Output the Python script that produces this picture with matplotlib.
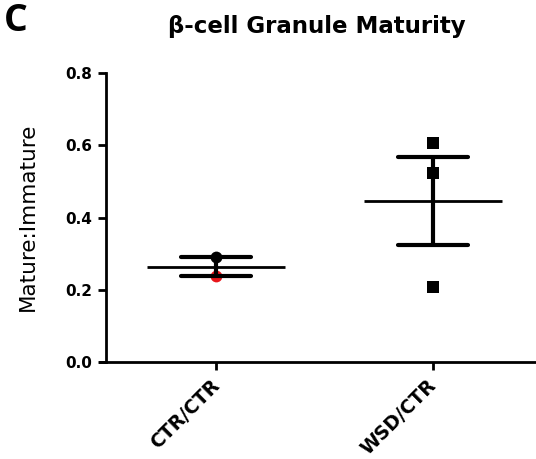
import numpy as np
import matplotlib
matplotlib.use("Agg")
import matplotlib.pyplot as plt
from matplotlib.transforms import ScaledTranslation

groups = ["CTR/CTR", "WSD/CTR"]
ctr_values = [0.290, 0.238]
ctr_colors = ["#000000", "#e8161b"]
wsd_values = [0.606, 0.523, 0.208]
yticks = [0.0, 0.2, 0.4, 0.6, 0.8]

plt.rcParams["font.family"] = ["DejaVu Sans"]

fig = plt.figure(figsize=(5.36, 4.59), dpi=100)
ax = fig.add_axes([100 / 536, 1 - 362 / 459, (545 - 100) / 536, (362 - 73) / 459])

positions = [1, 2]
series = [ctr_values, wsd_values]

for pos, vals in zip(positions, series):
    vals = np.asarray(vals)
    mean = vals.mean()
    sem = vals.std(ddof=1) / np.sqrt(len(vals))
    # mean line
    ax.plot([pos - 0.32, pos + 0.32], [mean, mean], color="black", lw=2.0,
            solid_capstyle="butt", zorder=3)
    # SEM bar with caps
    ax.plot([pos, pos], [mean - sem, mean + sem], color="black", lw=3.0,
            solid_capstyle="butt", zorder=3)
    for y in (mean - sem, mean + sem):
        ax.plot([pos - 0.16, pos + 0.16], [y, y], color="black", lw=3.0,
                solid_capstyle="round", zorder=3)

for v, c in zip(ctr_values, ctr_colors):
    ax.plot(positions[0], v, marker="o", ms=8.5, color=c, mec=c, mew=0, zorder=2)
for v in wsd_values:
    ax.plot(positions[1], v, marker="s", ms=9, color="black", mew=0, zorder=2)

x_left = 1 - (216 - 100) / 217
x_right = 1 + (545 - 216) / 217
ax.set_xlim(x_left, x_right)
ax.set_ylim(0, 0.8)

ax.spines["top"].set_visible(False)
ax.spines["right"].set_visible(False)
ax.spines["left"].set_position(("data", 1 - (216 - 106) / 217))
for s in ("left", "bottom"):
    ax.spines[s].set_linewidth(2.0)

ax.set_yticks(yticks)
ax.set_yticklabels([f"{t:.1f}" for t in yticks], fontsize=11, fontweight="bold")
ax.set_xticks(positions)
ax.set_xticklabels(groups, fontsize=13.5, fontweight="bold", rotation=45,
                   ha="right", va="top", rotation_mode="anchor")
ax.tick_params(axis="both", direction="out", length=6, width=2, pad=4)
shift = ScaledTranslation(-6 / 100, 0, fig.dpi_scale_trans)
for lab in ax.get_xticklabels():
    lab.set_transform(lab.get_transform() + shift)

fig.text(27.5 / 536, 1 - 217 / 459, "Mature:Immature", fontsize=15.5,
         rotation=90, ha="center", va="center")
fig.text(316.5 / 536, 1 - 26 / 459, "β-cell Granule Maturity", fontsize=16.5,
         fontweight="bold", ha="center", va="center")
fig.text(4 / 536, 1 - 21 / 459, "C", fontsize=27, fontweight="bold",
         ha="left", va="center", family=["Open Sans", "DejaVu Sans"])

fig.savefig("out.png", dpi=100)
